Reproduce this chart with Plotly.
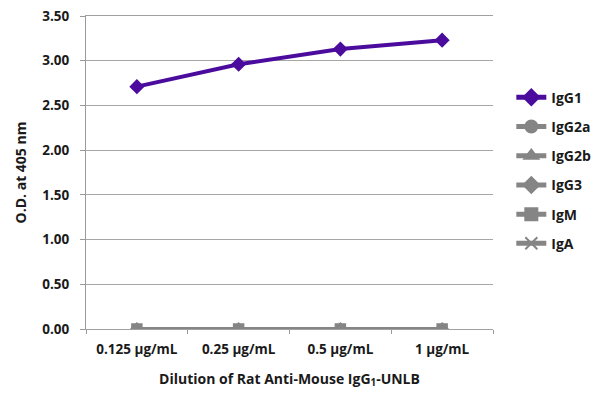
import plotly.graph_objects as go

categories = ["0.125 µg/mL", "0.25 µg/mL", "0.5 µg/mL", "1 µg/mL"]
igg1 = [2.71, 2.96, 3.13, 3.23]
igg2a = [0.0, 0.0, 0.0, 0.0]
igg2b = [0.0, 0.0, 0.0, 0.0]
igg3 = [0.0, 0.0, 0.0, 0.0]
igm = [0.0, 0.0, 0.0, 0.0]
iga = [0.0, 0.0, 0.0, 0.0]
y_ticks = [0, 0.5, 1.0, 1.5, 2.0, 2.5, 3.0, 3.5]

PURPLE = "#4B0C9E"
GREY = "#858585"
FONT = "Open Sans"
TXT = "#1a1a1a"

series = [
    ("IgG1", igg1, PURPLE, "diamond", 10),
    ("IgG2a", igg2a, GREY, "circle", 9),
    ("IgG2b", igg2b, GREY, "triangle-up", 9),
    ("IgG3", igg3, GREY, "diamond", 9),
    ("IgM", igm, GREY, "square", 10),
    ("IgA", iga, GREY, "x-thin-open", 9),
]

fig = go.Figure()
for name, vals, col, sym, sz in series:
    fig.add_trace(go.Scatter(
        x=categories, y=vals, name=name, mode="lines+markers",
        legendgroup=name,
        line=dict(color=col, width=4),
        marker=dict(symbol=sym, size=sz, color=col, line=dict(color=col, width=1.5)),
    ))

# page body has an 8px default margin; compensate so the plot lands where the reference has it
fig.update_layout(
    width=600, height=401,
    margin=dict(l=78, r=115, t=8, b=80),
    paper_bgcolor="white", plot_bgcolor="white",
    font=dict(family=FONT, size=13, color=TXT, weight="bold"),
    legend=dict(
        x=1.045, y=0.79, xanchor="left", yanchor="top",
        font=dict(family=FONT, size=14, color=TXT, weight="bold"),
        tracegroupgap=8, itemwidth=30, itemsizing="constant",
        bgcolor="rgba(0,0,0,0)",
    ),
    showlegend=True,
)
fig.update_xaxes(
    type="category", range=[-0.5, 3.5], automargin=False,
    showgrid=False, showline=True, linecolor="#a0a0a0", linewidth=1, mirror=True,
    ticks="outside", tickson="boundaries", ticklen=4, tickcolor="#9a9a9a",
    ticklabelstandoff=8, ticklabeloverflow="allow",
    tickfont=dict(family=FONT, size=13.5, color=TXT, weight="bold"),
    title=dict(text="Dilution of Rat Anti-Mouse IgG<sub>1</sub>-UNLB",
               font=dict(family=FONT, size=14, color=TXT, weight="bold"), standoff=16),
)
fig.update_yaxes(
    range=[0, 3.5], tickvals=y_ticks, tickformat=".2f", automargin=False,
    showgrid=True, gridcolor="#a6a6a6", gridwidth=1,
    showline=True, linecolor="#9a9a9a", linewidth=1,
    ticks="outside", ticklen=5, tickcolor="#9a9a9a",
    ticklabelstandoff=8, ticklabeloverflow="allow",
    tickfont=dict(family=FONT, size=13.5, color=TXT, weight="bold"),
    zeroline=False,
    title=dict(text="O.D. at 405 nm", font=dict(family=FONT, size=14, color=TXT, weight="bold"), standoff=12),
)

fig.write_html("out.html")
